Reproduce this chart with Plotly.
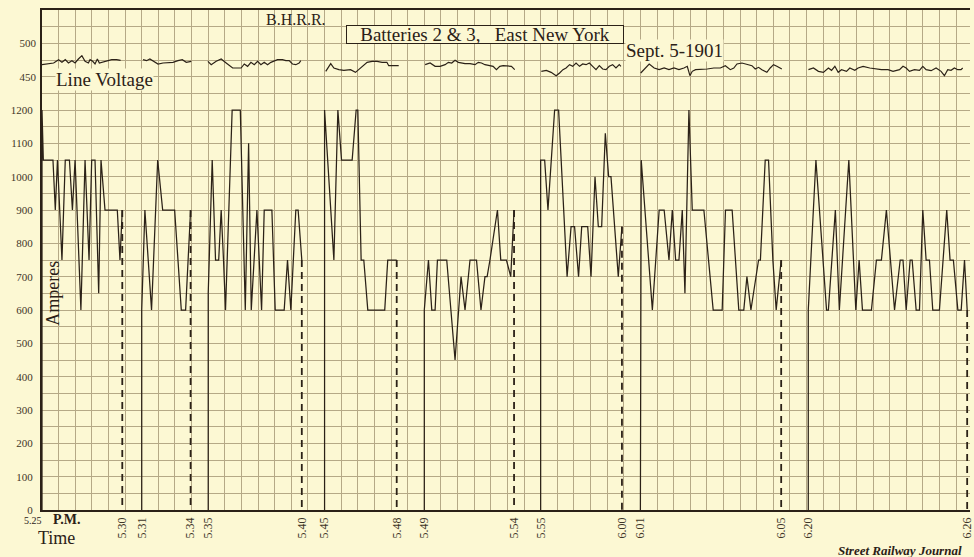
import plotly.graph_objects as go

# ---------------- data (x in chart grid divisions, amperes / volts) ----------------
run1_x = [0, 0, 0.08, 0.66, 0.80, 0.93, 1.20, 1.40, 1.65, 1.83, 1.99, 2.34, 2.59, 2.83, 2.99, 3.19, 3.41, 3.55, 3.79, 4.53, 4.69, 4.83]
run1_a = [0, 1200, 1050, 1050, 900, 1050, 750, 1050, 1050, 900, 1050, 600, 1050, 750, 1050, 1050, 650, 1050, 900, 900, 750, 900]

run2_x = [6.0, 6.0, 6.19, 6.59, 6.96, 7.26, 7.98, 8.38, 8.64, 8.94]
run2_a = [0, 600, 900, 600, 1050, 900, 900, 600, 600, 900]

run3_x = [10.0, 10.0, 10.24, 10.44, 10.63, 10.78, 10.92, 11.04, 11.44, 11.93, 12.23, 12.43, 12.59, 12.93, 13.21, 13.37, 13.83, 14.03, 14.57, 14.77, 14.97, 15.27, 15.41, 15.63]
run3_a = [0, 650, 1050, 750, 750, 900, 750, 600, 1200, 1200, 600, 1100, 600, 900, 600, 900, 900, 600, 600, 750, 600, 900, 900, 750]

run4_x = [17.0, 17.0, 17.56, 17.80, 18.02, 18.66, 18.90, 19.0, 19.20, 19.36, 19.60, 20.62, 20.80, 21.34]
run4_a = [0, 1200, 750, 1200, 1050, 1050, 1200, 1200, 750, 750, 600, 600, 750, 750]

run5_x = [23.0, 23.0, 23.25, 23.45, 23.65, 23.79, 24.35, 24.85, 25.21, 25.45, 25.75, 26.14, 26.41, 26.65, 26.78, 26.95, 27.40, 27.60, 27.94, 28.20, 28.40]
run5_a = [0, 600, 750, 600, 600, 750, 750, 450, 700, 600, 750, 750, 600, 700, 700, 750, 900, 750, 750, 700, 900]

run6_x = [30.0, 30.0, 30.24, 30.44, 30.84, 31.08, 31.59, 31.83, 32.04, 32.28, 32.47, 32.83, 33.03, 33.27, 33.47, 33.67, 33.89, 34.09, 34.23, 34.67, 34.89]
run6_a = [0, 1050, 1050, 900, 1200, 1200, 700, 850, 850, 700, 850, 850, 700, 1000, 850, 850, 1130, 1000, 1000, 700, 850]

run7_x = [36.0, 36.05, 36.72, 37.13, 37.43, 37.72, 37.92, 38.12, 38.32, 38.52, 38.68, 38.92, 39.12, 39.82, 40.38, 40.92, 41.12, 41.52, 41.92, 42.22, 42.41, 42.65, 43.11, 43.22, 43.51, 43.71, 43.97, 44.17, 44.47]
run7_a = [0, 1050, 600, 900, 900, 750, 900, 750, 750, 900, 650, 1200, 900, 900, 600, 600, 900, 900, 600, 600, 700, 600, 750, 750, 1050, 1050, 750, 600, 750]

run8_x = [46.1, 46.1, 46.56, 47.20, 47.31, 47.73, 47.97, 48.54, 48.96, 49.16, 49.36, 49.90, 50.20, 50.50, 50.80, 51.04, 51.29, 51.63, 51.80, 51.99, 52.23, 52.35, 52.59, 52.79, 52.99, 53.19, 53.39, 53.59, 53.99, 54.43, 54.63, 54.83, 55.10, 55.30, 55.50, 55.66]
run8_a = [0, 600, 1050, 600, 600, 900, 600, 1050, 600, 750, 600, 600, 750, 750, 900, 750, 600, 750, 750, 600, 750, 750, 600, 600, 900, 750, 750, 600, 600, 900, 750, 750, 600, 600, 750, 600]

volt1_x = [0.0, 0.50, 0.70, 1.0, 1.20, 1.40, 1.59, 1.80, 1.99, 2.19, 2.40, 2.59, 2.79, 2.89, 3.05, 3.19, 3.33, 3.45, 3.59, 3.69, 3.93, 4.19, 4.49, 4.73]
volt1_v = [468, 469, 470.5, 475.5, 471.5, 475.5, 470.5, 474, 470.5, 476.5, 481.5, 473, 470.5, 475.5, 473, 469, 476.5, 470.5, 471.5, 473, 474, 475.5, 475.5, 474.5]

volt2_x = [6.08, 6.29, 6.49, 6.78, 6.98, 7.28, 7.58, 7.88, 8.18, 8.44, 8.68, 8.98]
volt2_v = [475.5, 474, 476.5, 471.5, 469, 470.5, 470.5, 471.5, 474, 475.5, 471.5, 473]

volt3_x = [9.98, 10.18, 10.48, 10.78, 11.08, 11.28, 11.47, 11.77, 11.98, 12.17, 12.37, 12.57, 12.77, 12.97, 13.17, 13.37, 13.57, 13.77, 13.97, 14.17, 14.47, 14.67, 14.87, 15.07, 15.27, 15.47, 15.57]
volt3_v = [473, 468, 473, 476.5, 470.5, 466.5, 463, 463, 463, 469, 465.5, 471.5, 468, 473, 468, 471.5, 468, 471.5, 474, 475.5, 475.5, 474, 474, 469, 468, 470.5, 474]

volt4_x = [17.07, 17.37, 17.56, 17.86, 18.16, 18.56, 18.86, 19.06, 19.26, 19.56, 19.86, 20.16, 20.46, 20.75, 20.86, 21.16, 21.46]
volt4_v = [458, 469.5, 463, 460.5, 459.5, 460.5, 456.5, 460.5, 465.5, 471.5, 473, 473, 471.5, 471.5, 466.5, 466.5, 466.5]

volt5_x = [23.05, 23.35, 23.65, 23.95, 24.25, 24.45, 24.65, 24.85, 25.05, 25.45, 25.75, 26.05, 26.25, 26.44, 26.65, 26.95, 27.14, 27.34, 27.54, 27.74, 28.04, 28.24, 28.44]
volt5_v = [468, 470.5, 465.5, 465.5, 468, 471.5, 470.5, 474.5, 471.5, 469.5, 469.5, 468, 471.5, 470.5, 468, 466.5, 465.5, 460.5, 465.5, 466.5, 466.5, 465.5, 460.5]

volt6_x = [30.04, 30.34, 30.63, 30.93, 31.14, 31.34, 31.53, 31.74, 31.93, 32.13, 32.34, 32.53, 32.73, 32.93, 33.13, 33.33, 33.53, 33.73, 33.93, 34.13, 34.33, 34.53, 34.73, 34.83]
volt6_v = [458, 459.5, 456.5, 451.5, 455.5, 460.5, 463, 468, 465.5, 470.5, 465.5, 469, 468, 470.5, 465.5, 460.5, 466.5, 461.5, 460.5, 465.5, 468, 463, 468, 465.5]

volt7_x = [36.02, 36.23, 36.53, 36.83, 37.13, 37.43, 37.72, 38.02, 38.32, 38.62, 38.82, 38.98, 39.12, 39.32, 39.62, 40.02, 40.42, 40.81, 41.11, 41.41, 41.62, 41.81, 42.11, 42.41, 42.71, 42.91, 43.11, 43.31, 43.61, 43.81, 44.01, 44.21, 44.51]
volt7_v = [455.5, 461.5, 469, 463, 460.5, 463, 460.5, 463, 460.5, 463, 465.5, 451.5, 458, 460.5, 460.5, 461.5, 463, 463, 466.5, 460.5, 463, 469, 470.5, 468, 466.5, 461.5, 464, 460.5, 456.5, 463, 468, 465.5, 461.5]

volt8_x = [46.11, 46.41, 46.71, 47.01, 47.31, 47.50, 47.70, 47.90, 48.10, 48.40, 48.60, 48.90, 49.10, 49.40, 49.80, 50.10, 50.50, 50.90, 51.20, 51.59, 51.80, 51.99, 52.19, 52.49, 52.79, 52.99, 53.19, 53.49, 53.79, 54.09, 54.29, 54.49, 54.69, 54.89, 55.09, 55.29, 55.39]
volt8_v = [460.5, 463, 458, 456.5, 463, 459.5, 465.5, 456.5, 460.5, 458, 463, 459.5, 463, 465.5, 463, 461.5, 460.5, 460.5, 458, 460.5, 465.5, 463, 458, 460.5, 459.5, 465.5, 460.5, 459, 463, 458, 451.5, 460.5, 459.5, 463, 460.5, 460.5, 463]

time_pos = [4.83, 6.0, 8.94, 10.0, 15.63, 17.0, 21.34, 23.0, 28.40, 30.0, 34.89, 36.0, 44.47, 46.1, 55.66]
time_lab = ["5.30", "5.31", "5.34", "5.35", "5.40", "5.45", "5.48", "5.49", "5.54", "5.55", "6.00", "6.01", "6.05", "6.20", "6.26"]
amp_labels = [0, 100, 200, 300, 400, 500, 600, 700, 800, 900, 1000, 1100, 1200]
volt_labels = [450, 500]

ampere_runs = [(run1_x, run1_a), (run2_x, run2_a), (run3_x, run3_a), (run4_x, run4_a),
               (run5_x, run5_a), (run6_x, run6_a), (run7_x, run7_a), (run8_x, run8_a)]
voltage_runs = [(volt1_x, volt1_v), (volt2_x, volt2_v), (volt3_x, volt3_v), (volt4_x, volt4_v),
                (volt5_x, volt5_v), (volt6_x, volt6_v), (volt7_x, volt7_v), (volt8_x, volt8_v)]

# ---------------- style ----------------
BG = "#FCF8D3"
INK = "#2b2117"
GRID = "#b5a986"
SERIF = "Liberation Serif, Times New Roman, serif"
XMAX = 55.83
YMAX = 1500

fig = go.Figure()
for xs, ys in ampere_runs:
    fig.add_trace(go.Scatter(x=xs, y=ys, mode="lines", xaxis="x", yaxis="y",
                             line=dict(color=INK, width=1.25), hoverinfo="skip"))
for xs, ys in ampere_runs:
    fig.add_trace(go.Scatter(x=[xs[-1], xs[-1]], y=[ys[-1], 0], mode="lines", xaxis="x2", yaxis="y",
                             line=dict(color=INK, width=1.8, dash="7px,5px"), hoverinfo="skip"))
for xs, vs in voltage_runs:
    fig.add_trace(go.Scatter(x=xs, y=vs, mode="lines", xaxis="x", yaxis="y2",
                             line=dict(color=INK, width=1.2), hoverinfo="skip"))

grid_vals = list(range(0, YMAX, 50))
grid_text = [str(v) if v in amp_labels else "" for v in grid_vals]
tickfont = dict(family=SERIF, size=11, color="#3f3628")

fig.update_layout(
    width=974, height=557,
    margin=dict(l=42, r=0, t=10, b=47),
    paper_bgcolor=BG, plot_bgcolor=BG, showlegend=False,
    xaxis=dict(range=[0, XMAX], tickmode="linear", tick0=0, dtick=1, showticklabels=False,
               showgrid=True, gridcolor=GRID, gridwidth=1, zeroline=False,
               showline=True, linecolor=INK, linewidth=2, mirror=True, ticks=""),
    xaxis2=dict(overlaying="x", anchor="y", side="bottom", range=[0, XMAX],
                tickmode="array", tickvals=time_pos, ticktext=time_lab, tickangle=-90,
                showgrid=False, zeroline=False, showline=False, ticks="",
                ticklabeloverflow="allow", ticklabelstandoff=4,
                tickfont=dict(family=SERIF, size=12, color="#3f3628")),
    yaxis=dict(range=[0, YMAX], tickmode="array", tickvals=grid_vals, ticktext=grid_text,
               showgrid=True, gridcolor=GRID, gridwidth=1, zeroline=False,
               showline=True, linecolor=INK, linewidth=2, ticks="",
               ticklabelstandoff=5, tickfont=tickfont),
    yaxis2=dict(overlaying="y", anchor="x", side="left", range=[-200, 550],
                tickmode="array", tickvals=volt_labels, showgrid=False, zeroline=False,
                showline=False, ticks="", ticklabelstandoff=5, tickfont=tickfont),
)

def ann(text, x, y, size, xanchor="left", yanchor="middle", **kw):
    fig.add_annotation(text=text, x=x, y=y, xref="paper", yref="paper", showarrow=False,
                       xanchor=xanchor, yanchor=yanchor,
                       font=dict(family=SERIF, size=size, color=INK), **kw)

ann("B.H.R.R.", 0.2393, 0.982, 16)
ann("Batteries 2 &amp; 3,\u00a0\u00a0\u00a0East New York", 0.477, 0.952, 19, xanchor="center",
    bgcolor=BG, bordercolor=INK, borderwidth=1, borderpad=0, width=276, height=17)
ann("Sept. 5-1901", 0.6277, 0.918, 19, bgcolor=BG, borderpad=0)
ann("Line Voltage", 0.0135, 0.862, 19, bgcolor=BG, borderpad=0)
ann("Amperes", 0.0115, 0.434, 18, xanchor="center", textangle=-90)
ann("5.25", -0.0097, -0.02, 10, xanchor="center")
ann("<b>P.M.</b>", 0.0268, -0.019, 14, xanchor="center")
ann("Time", 0.0161, -0.056, 18, xanchor="center")
ann("<b><i>Street Railway Journal</i></b>", 0.993, -0.08, 13, xanchor="right")

fig.write_html("out.html",
               config={"displayModeBar": False},
               post_script="document.body.style.margin='0px';"
                           "document.body.style.background='" + BG + "';")
